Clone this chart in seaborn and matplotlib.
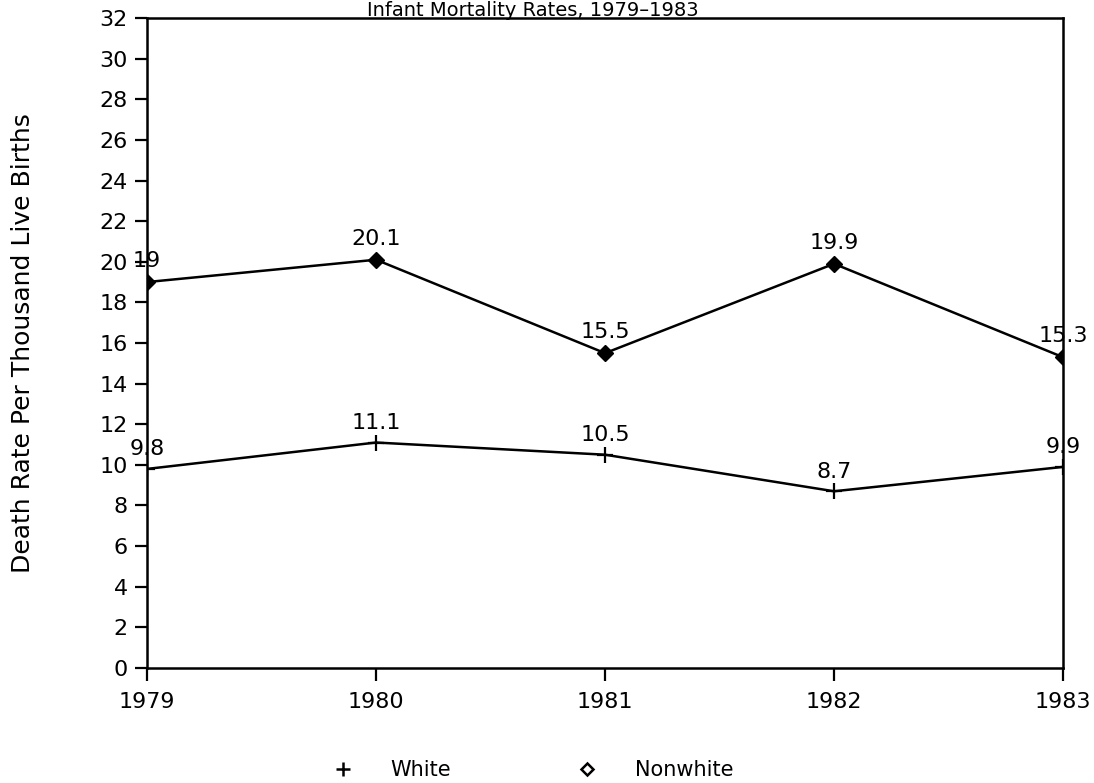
import matplotlib
matplotlib.use("Agg")
import matplotlib.pyplot as plt
import seaborn as sns
import pandas as pd
from matplotlib.lines import Line2D

years = [1979, 1980, 1981, 1982, 1983]
white = [9.8, 11.1, 10.5, 8.7, 9.9]
nonwhite = [19.0, 20.1, 15.5, 19.9, 15.3]
white_labels = ["9.8", "11.1", "10.5", "8.7", "9.9"]
nonwhite_labels = ["19", "20.1", "15.5", "19.9", "15.3"]
y_ticks = list(range(0, 33, 2))

sns.set_theme(style="white")
plt.rcParams['font.family'] = ['DejaVu Sans']
plt.rcParams['text.color'] = 'black'

df_w = pd.DataFrame({"year": years, "rate": white})
df_n = pd.DataFrame({"year": years, "rate": nonwhite})

fig = plt.figure(figsize=(10.94, 7.83), dpi=100)
ax = fig.add_axes([0.1344, 0.1469, 0.9717 - 0.1344, 0.977 - 0.1469])

sns.lineplot(data=df_w, x="year", y="rate", color="black", marker="+",
             markersize=12, markeredgewidth=1.6, markeredgecolor="black",
             linewidth=1.8, ax=ax)
sns.lineplot(data=df_n, x="year", y="rate", color="black", marker="D",
             markersize=8, markeredgewidth=1.0, markeredgecolor="black",
             markerfacecolor="black", linewidth=1.8, ax=ax)

ax.set_xlim(1979, 1983)
ax.set_ylim(0, 32)
ax.set_xticks(years)
ax.set_xticklabels([str(y) for y in years], fontsize=16)
ax.set_yticks(y_ticks)
ax.set_yticklabels([str(t) for t in y_ticks], fontsize=16)
ax.tick_params(axis='both', direction='out', length=9, width=1.6, color='black',
               left=True, bottom=True, labelcolor='black')
ax.tick_params(axis='x', pad=8)
ax.tick_params(axis='y', pad=5)
for s in ax.spines.values():
    s.set_visible(True)
    s.set_color('black')
    s.set_linewidth(1.8)
ax.set_xlabel("")
ax.set_ylabel("Death Rate Per Thousand Live Births", fontsize=18, labelpad=46, color='black')

for x, v, lab in zip(years, nonwhite, nonwhite_labels):
    ax.annotate(lab, (x, v), xytext=(0, 8), textcoords='offset points',
                ha='center', va='bottom', fontsize=16, color='black')
for x, v, lab in zip(years, white, white_labels):
    ax.annotate(lab, (x, v), xytext=(0, 7), textcoords='offset points',
                ha='center', va='bottom', fontsize=16, color='black')

fig.text(0.487, 0.999, "Infant Mortality Rates, 1979\u20131983",
         ha='center', va='top', fontsize=14, color='black')

handles = [Line2D([], [], color='black', marker='+', linestyle='none', markersize=10, markeredgewidth=1.8),
           Line2D([], [], color='black', marker='D', markerfacecolor='white', linestyle='none',
                  markersize=6, markeredgewidth=1.8)]
fig.legend(handles, ["White", "Nonwhite"], loc='center', bbox_to_anchor=(0.487, 1 - 770 / 783),
           ncol=2, frameon=False, fontsize=15, handletextpad=1.8, columnspacing=6.0,
           handlelength=1, labelcolor='black')

fig.savefig("out.png", dpi=100)
